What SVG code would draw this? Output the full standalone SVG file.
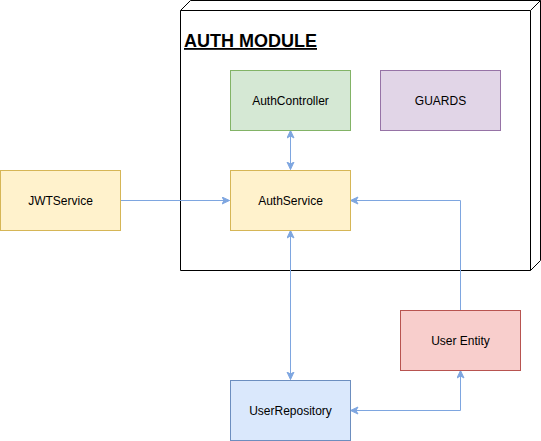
<svg xmlns="http://www.w3.org/2000/svg" width="541" height="441" viewBox="0 0 541 441">
<defs>
<style>
.n rect{stroke-width:1}
.t{font-family:"Liberation Sans",Arial,Helvetica,sans-serif;font-size:12px;fill:#000;text-anchor:middle;dominant-baseline:central}
.c{fill:none;stroke:#7EA6E0;stroke-width:1}
</style>
<marker id="ah" markerWidth="10" markerHeight="10" refX="8" refY="4" orient="auto-start-reverse" markerUnits="userSpaceOnUse">
<path d="M0.5,0.5 L8,4 L0.5,7.5 L2.5,4 Z" fill="#7EA6E0" stroke="#7EA6E0" stroke-width="1"/>
</marker>
</defs>
<rect width="541" height="441" fill="#fff"/>
<g id="auth-module">
<path d="M180.5,10.5 L190.5,0.5 L540.5,0.5 L540.5,260.5 L530.5,270.5 L180.5,270.5 Z" fill="#fff" stroke="#000"/>
<path d="M180.5,10.5 L530.5,10.5 L540.5,0.5 M530.5,10.5 L530.5,270.5" fill="none" stroke="#000"/>
<text x="184" y="47" font-family="Liberation Sans,Arial,Helvetica,sans-serif" font-size="18" font-weight="bold" text-decoration="underline" fill="#000">AUTH MODULE</text>
</g>
<g id="connectors">
<path class="c" d="M290.5,130.5 L290.5,169.5" marker-start="url(#ah)" marker-end="url(#ah)"/>
<path class="c" d="M120.5,200.5 L229.5,200.5" marker-end="url(#ah)"/>
<path class="c" d="M460.5,310 L460.5,200.5 L350.5,200.5" marker-end="url(#ah)"/>
<path class="c" d="M290.5,230.5 L290.5,379.5" marker-start="url(#ah)" marker-end="url(#ah)"/>
<path class="c" d="M350.5,410.5 L460.5,410.5 L460.5,370.5" marker-start="url(#ah)" marker-end="url(#ah)"/>
</g>
<g id="AuthController" class="n">
<rect x="230.5" y="70.5" width="120" height="60" fill="#d5e8d4" stroke="#82b366"/>
<text class="t" x="290.5" y="100.5">AuthController</text>
</g>
<g id="GUARDS" class="n">
<rect x="380.5" y="70.5" width="120" height="60" fill="#e1d5e7" stroke="#9673a6"/>
<text class="t" x="440.5" y="100.5">GUARDS</text>
</g>
<g id="JWTService" class="n">
<rect x="0.5" y="170.5" width="120" height="60" fill="#fff2cc" stroke="#d6b656"/>
<text class="t" x="60.5" y="200.5">JWTService</text>
</g>
<g id="AuthService" class="n">
<rect x="230.5" y="170.5" width="120" height="60" fill="#fff2cc" stroke="#d6b656"/>
<text class="t" x="290.5" y="200.5">AuthService</text>
</g>
<g id="UserEntity" class="n">
<rect x="400.5" y="310.5" width="120" height="60" fill="#f8cecc" stroke="#b85450"/>
<text class="t" x="460.5" y="340.5">User Entity</text>
</g>
<g id="UserRepository" class="n">
<rect x="230.5" y="380.5" width="120" height="60" fill="#dae8fc" stroke="#6c8ebf"/>
<text class="t" x="290.5" y="410.5">UserRepository</text>
</g>
</svg>
